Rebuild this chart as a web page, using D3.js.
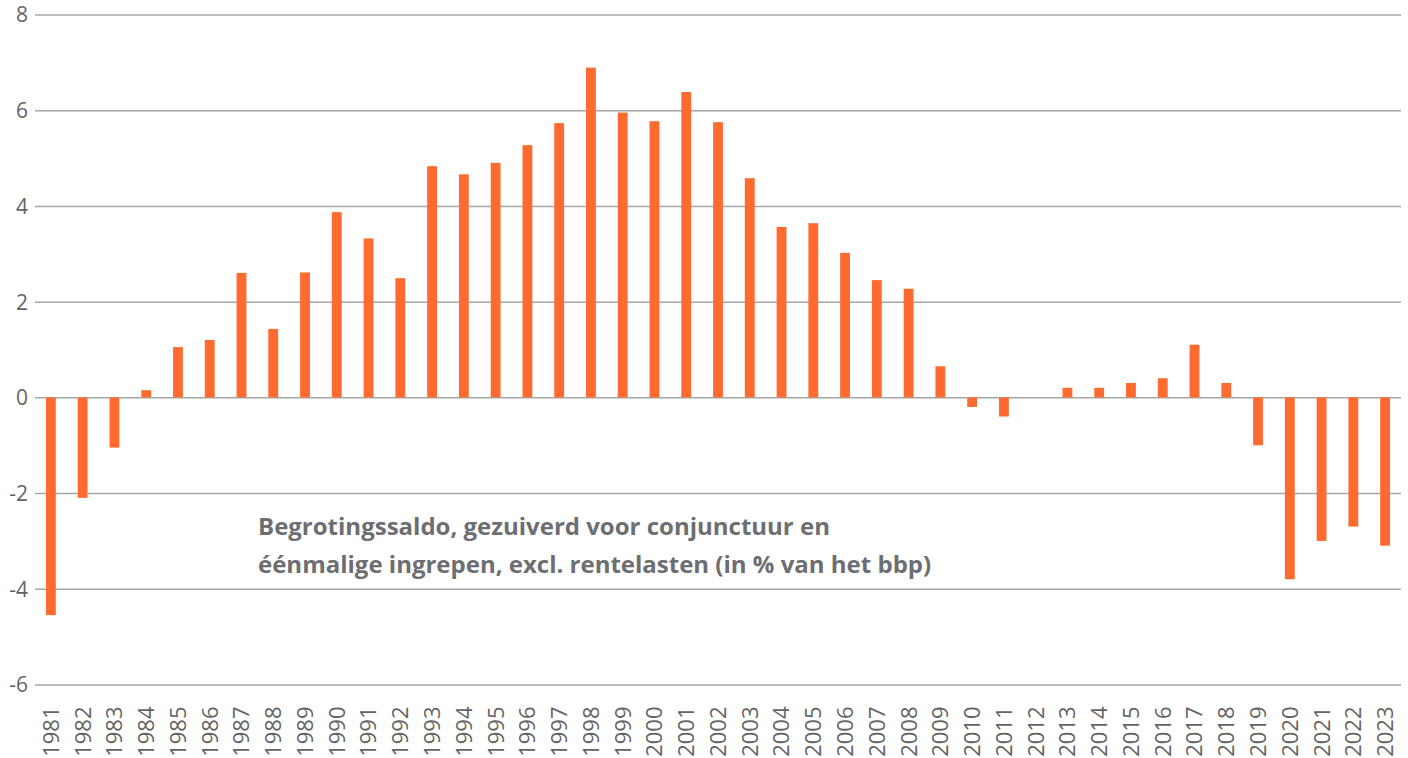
<!DOCTYPE html>
<html>
<head>
<meta charset="utf-8">
<script src="https://cdn.jsdelivr.net/npm/d3@7"></script>
<style>
	body { margin: 0; background: #fff; }
	svg { display: block; }
	.grid line { stroke: #a6a6a6; stroke-width: 1.5; }
	.grid text { fill: #646464; font-family: "Open Sans", sans-serif; font-size: 21px; }
	.year { fill: #646464; font-family: "Open Sans", sans-serif; font-size: 22px; }
	.note { fill: #6d6e71; font-family: "Open Sans", sans-serif; font-size: 24px; font-weight: bold; }
</style>
</head>
<body>
<div id="chart"></div>
<script>
var years = d3.range(1981, 2024);
var saldo = [
	-4.55, -2.1, -1.05, 0.15, 1.05, 1.2, 2.6, 1.43, 2.61, 3.87,
	3.32, 2.49, 4.83, 4.66, 4.9, 5.27, 5.73, 6.89, 5.95, 5.77,
	6.38, 5.75, 4.58, 3.56, 3.64, 3.02, 2.45, 2.27, 0.65, -0.2,
	-0.4, 0, 0.2, 0.2, 0.3, 0.4, 1.1, 0.3, -1.0, -3.8,
	-3.0, -2.7, -3.1
];
var yTicks = [-6, -4, -2, 0, 2, 4, 6, 8];
var noteLines = [
	"Begrotingssaldo, gezuiverd voor conjunctuur en",
	"éénmalige ingrepen, excl. rentelasten (in % van het bbp)"
];

var width = 1408, height = 758;
var margin = {left: 35, right: 7, top: 14.5, bottom: 73.5};

var svg = d3.select("#chart").append("svg")
	.attr("width", width)
	.attr("height", height);

// scales
var x = d3.scaleBand()
	.domain(years)
	.range([margin.left, width - margin.right])
	.paddingInner(0.69)
	.paddingOuter(0.345);

var y = d3.scaleLinear()
	.domain([-6, 8])
	.range([height - margin.bottom, margin.top]);

// gridlines + y labels (plain hyphen for negatives)
var grid = svg.append("g")
	.attr("class", "grid")
	.attr("transform", "translate(" + margin.left + ",0)")
	.call(d3.axisLeft(y)
		.tickValues(yTicks)
		.tickSize(-(width - margin.left - margin.right))
		.tickPadding(7)
		.tickFormat(function (d) { return String(d); }));
grid.select(".domain").remove();
grid.selectAll("text").attr("dy", "0.35em");

// bars
svg.append("g")
	.selectAll("rect")
	.data(saldo)
	.join("rect")
	.attr("x", function (d, i) { return x(years[i]); })
	.attr("width", x.bandwidth())
	.attr("y", function (d) { return y(Math.max(0, d)); })
	.attr("height", function (d) { return Math.abs(y(d) - y(0)); })
	.attr("fill", "#ff6b2f");

// year labels, rotated
svg.append("g")
	.selectAll("text")
	.data(years)
	.join("text")
	.attr("class", "year")
	.attr("transform", function (d) {
		return "translate(" + (x(d) + x.bandwidth() / 2) + "," + (y(-6) + 22) + ") rotate(-90)";
	})
	.attr("text-anchor", "end")
	.attr("dy", "0.36em")
	.text(function (d) { return d; });

// annotation
svg.append("g")
	.selectAll("text")
	.data(noteLines)
	.join("text")
	.attr("class", "note")
	.attr("x", 258)
	.attr("y", function (d, i) { return 535 + i * 38; })
	.text(function (d) { return d; });
</script>
</body>
</html>
